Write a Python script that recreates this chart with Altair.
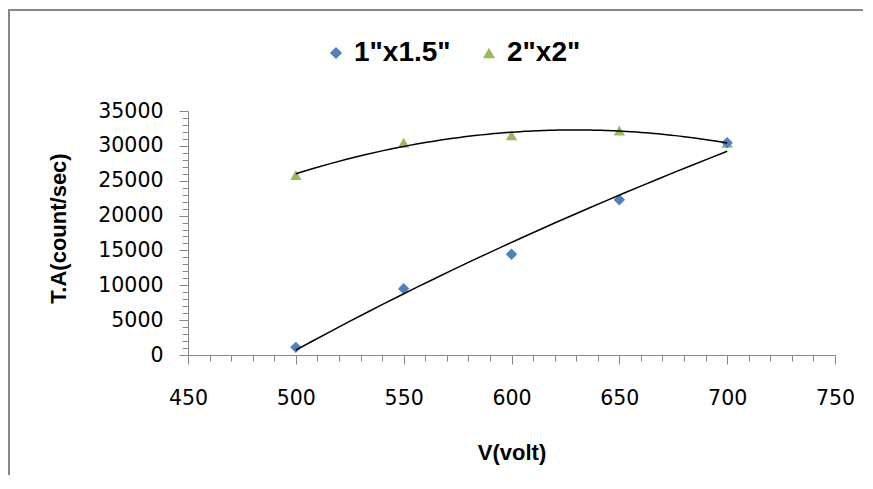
import altair as alt
import pandas as pd

volts = [500, 550, 600, 650, 700]
series_a_name = '1"x1.5"'
series_b_name = '2"x2"'
series_a = [1100, 9500, 14450, 22280, 30450]
series_b = [25800, 30450, 31500, 32200, 30450]

rows = []
for v, b in zip(volts, series_b):
    rows.append({"V": v, "TA": b, "S": series_b_name, "o": 0})
for v, a in zip(volts, series_a):
    rows.append({"V": v, "TA": a, "S": series_a_name, "o": 1})
df = pd.DataFrame(rows)

x_ticks = list(range(450, 751, 10))
y_ticks = list(range(0, 35001, 1000))

W, H = 647, 244
GRAY = "#868686"

xscale = alt.Scale(domain=[450, 750], nice=False, zero=False)
yscale = alt.Scale(domain=[0, 35000], nice=False)

x_axis = alt.Axis(
    values=x_ticks, labelExpr="datum.value % 50 === 0 ? datum.label : ''",
    format="d", grid=False, domainColor=GRAY, tickColor=GRAY,
    tickSize={"condition": {"test": "datum.value % 50 === 0", "value": 9}, "value": 6},
    labelPadding=24, labelFont="DejaVu Sans", labelFontSize=20.5, labelColor="black",
    labelOverlap=False, labelFlush=False, labelBound=False,
    title="V(volt)", titleFont="Liberation Sans", titleFontSize=22,
    titleFontWeight="bold", titleColor="black", titleX=W / 2, titleY=97,
    titleBaseline="middle", titleAlign="center")
y_axis = alt.Axis(
    values=y_ticks, labelExpr="datum.value % 5000 === 0 ? datum.label : ''",
    format="d", grid=False, domainColor=GRAY, tickColor=GRAY,
    tickSize={"condition": {"test": "datum.value % 5000 === 0", "value": 9}, "value": 6},
    labelPadding=16, labelFont="DejaVu Sans", labelFontSize=20.5, labelColor="black",
    labelOverlap=False, labelFlush=False, labelBound=False,
    title="T.A(count/sec)", titleFont="Liberation Sans",
    titleFontSize=22, titleFontWeight="bold", titleColor="black",
    titleX=-130, titleY=117, titleAngle=270, titleBaseline="middle", titleAlign="center")

def xe():
    return alt.X("V:Q", scale=xscale, axis=x_axis)

def ye():
    return alt.Y("TA:Q", scale=yscale, axis=y_axis)

base = alt.Chart(df)

points = base.mark_point(filled=True, size=130, opacity=1).encode(
    x=xe(), y=ye(),
    color=alt.Color("S:N", scale=alt.Scale(domain=[series_a_name, series_b_name],
                                          range=["#4F81BD", "#9BBB59"]), title=None),
    shape=alt.Shape("S:N", scale=alt.Scale(domain=[series_a_name, series_b_name],
                                          range=["diamond", "triangle-up"]), title=None),
    order=alt.Order("o:Q"),
)

trend_a = base.transform_filter(alt.datum.S == series_a_name).transform_regression(
    "V", "TA", method="log").mark_line(color="black", strokeWidth=1.5).encode(
    x=xe(), y=ye())
trend_b = base.transform_filter(alt.datum.S == series_b_name).transform_regression(
    "V", "TA", method="poly", order=2).mark_line(color="black", strokeWidth=1.5).encode(
    x=xe(), y=ye())

border_top = alt.Chart(df).mark_rule(color=GRAY, strokeWidth=2).encode(
    x=alt.value(-182), x2=alt.value(W + 30), y=alt.value(-101))
border_left = alt.Chart(df).mark_rule(color=GRAY, strokeWidth=2).encode(
    x=alt.value(-179), y=alt.value(-102), y2=alt.value(H + 125))

chart = alt.layer(points, trend_a, trend_b, border_top, border_left).properties(
    width=W, height=H,
    autosize=alt.AutoSizeParams(type="none"),
    padding={"left": 180, "top": 103, "right": 28, "bottom": 120},
).configure_view(stroke=None).configure_legend(
    orient="none", legendX=134, legendY=-72, direction="horizontal",
    labelFont="Liberation Sans", labelFontWeight="bold", labelFontSize=28,
    labelColor="black", symbolSize=150, symbolStrokeWidth=0, columnPadding=24,
    labelOffset=4, padding=0,
)

chart.save("out.html", embed_options={"renderer": "svg", "actions": False})
